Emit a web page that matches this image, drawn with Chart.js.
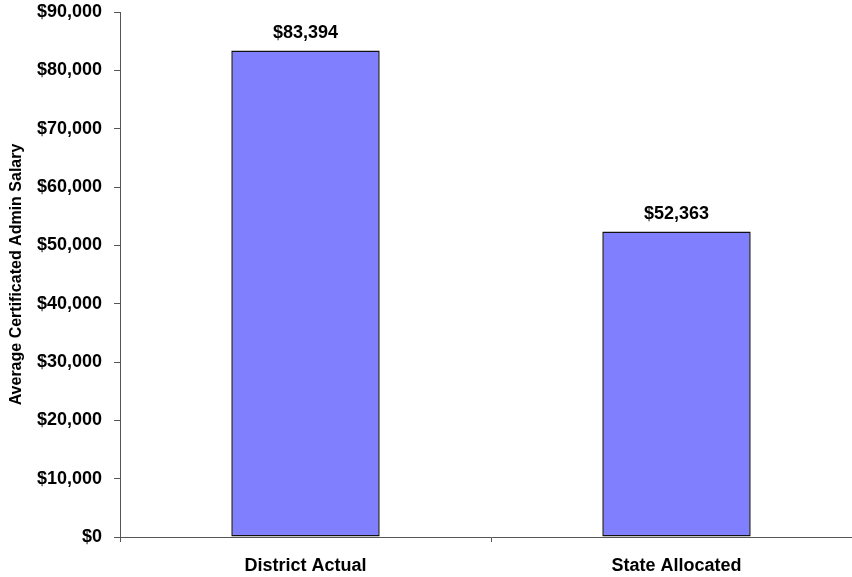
<!DOCTYPE html>
<html>
<head>
<meta charset="utf-8">
<script src="https://cdn.jsdelivr.net/npm/chart.js@4"></script>
<style>
  html, body { margin: 0; padding: 0; background: #fff; overflow: hidden; }
  #wrap { width: 862px; height: 577px; position: relative; }
</style>
</head>
<body>
<div id="wrap"><canvas id="salaryChart"></canvas></div>
<script>
// Chart data
const categories = ['District Actual', 'State Allocated'];
const salaries = [83394, 52363];
const yMax = 90000;
const yStep = 10000;

const fontFamily = '"Liberation Sans", Arial, sans-serif';

function money(v) {
    return '$' + v.toLocaleString('en-US');
}

// Value labels above each bar
const valueLabels = {
    id: 'valueLabels',
    afterDatasetsDraw(chart) {
        const ctx = chart.ctx;
        const meta = chart.getDatasetMeta(0);
        ctx.save();
        ctx.font = 'bold 18px ' + fontFamily;
        ctx.fillStyle = '#000';
        ctx.textAlign = 'center';
        ctx.textBaseline = 'alphabetic';
        meta.data.forEach((bar, i) => {
            ctx.fillText(money(salaries[i]), bar.x, bar.y - 13);
        });
        ctx.restore();
    }
};

const ctx = document.getElementById('salaryChart').getContext('2d');
const salaryChart = new Chart(ctx, {
    type: 'bar',
    data: {
        labels: categories,
        datasets: [{
            data: salaries,
            backgroundColor: '#8080FF',
            borderColor: '#111',
            borderWidth: 1.5,
            borderSkipped: false,
            categoryPercentage: 0.8,
            barPercentage: 0.5
        }]
    },
    options: {
        responsive: true,
        maintainAspectRatio: false,
        animation: false,
        layout: { padding: { top: 12, right: 0, bottom: 0, left: 0 } },
        plugins: {
            legend: { display: false },
            tooltip: { enabled: false }
        },
        scales: {
            x: {
                grid: {
                    offset: true,
                    drawOnChartArea: false,
                    drawTicks: true,
                    tickLength: 5,
                    color: '#555'
                },
                border: { color: '#555', width: 1 },
                ticks: {
                    color: '#000',
                    padding: 13,
                    font: { family: fontFamily, size: 18, weight: 'bold' }
                },
                afterFit: scale => { scale.height = 40; }
            },
            y: {
                min: 0,
                max: yMax,
                grid: {
                    drawOnChartArea: false,
                    drawTicks: true,
                    tickLength: 6,
                    color: '#555'
                },
                border: { color: '#555', width: 1 },
                ticks: {
                    stepSize: yStep,
                    color: '#000',
                    padding: 12,
                    font: { family: fontFamily, size: 18, weight: 'bold' },
                    callback: value => money(value)
                },
                title: {
                    display: true,
                    text: 'Average Certificated Admin Salary',
                    color: '#000',
                    padding: { top: 7, bottom: 0 },
                    font: { family: fontFamily, size: 16, weight: 'bold' }
                },
                afterFit: scale => {
                    scale.width = 120;
                    scale.paddingTop = 0;
                    scale.paddingBottom = 0;
                }
            }
        }
    },
    plugins: [valueLabels]
});
</script>
</body>
</html>
